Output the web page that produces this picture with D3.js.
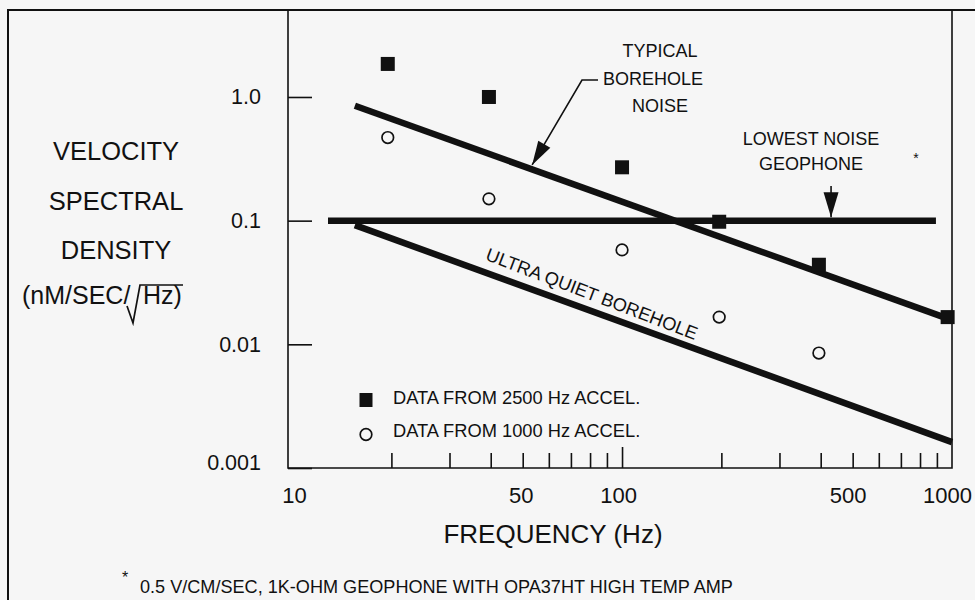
<!DOCTYPE html>
<html><head><meta charset="utf-8">
<script src="https://cdn.jsdelivr.net/npm/d3@7"></script>
<style>
html,body{margin:0;padding:0;background:#f6f6f6;}
svg{display:block;}
text{font-family:"Liberation Sans",Arial,Helvetica,sans-serif;fill:#111;}
</style></head><body>
<script>
// ---- data ----
const xMinorTicks = [20,30,40,50,60,70,80,90,100,200,300,400,500,600,700,800,900];
const xLabelValues = [10,50,100,500,1000];
const xLabels = ["10","50","100","500","1000"];
const yTickValues = [1,0.1,0.01,0.001];
const yLabels = ["1.0","0.1","0.01","0.001"];
const accel2500Freq = [19.5,39.5,100,197,395,970];
const accel2500Val  = [1.85,1.0,0.27,0.098,0.044,0.0166];
const accel1000Freq = [19.5,39.5,100,197,395];
const accel1000Val  = [0.47,0.15,0.058,0.0166,0.0085];
const typicalFreq  = [15.5,1000];  const typicalVal  = [0.85,0.0157];
const geophoneFreq = [12.85,894];  const geophoneVal = [0.1,0.1];
const ultraFreq    = [15.5,1000];  const ultraVal    = [0.092,0.00162];
const legendLabels = ["DATA FROM 2500 Hz ACCEL.","DATA FROM 1000 Hz ACCEL."];
const yTitle = ["VELOCITY","SPECTRAL","DENSITY"];
const xTitle = "FREQUENCY (Hz)";
const footnote = "0.5 V/CM/SEC, 1K-OHM GEOPHONE WITH OPA37HT HIGH TEMP AMP";
const typicalArrowTip = [53.4, 0.282];
const geophoneArrowFreq = 430;

// ---- layout ----
const W = 975, H = 600;
const svg = d3.select("body").append("svg").attr("width", W).attr("height", H);
svg.append("rect").attr("width", W).attr("height", H).attr("fill", "#f6f6f6");

const x = d3.scaleLog().domain([9.72, 1000]).range([288, 952]);
const y = d3.scaleLog().domain([0.001, 5.05]).range([468, 10]);
const ink = "#111";

// outer frame
svg.append("path").attr("d", "M8,600V10H975").attr("fill", "none").attr("stroke", ink).attr("stroke-width", 2);
// plot frame
svg.append("path")
  .attr("d", `M${x.range()[0]},${y.range()[1]}V${y.range()[0]}H${x.range()[1]}V${y.range()[1]}`)
  .attr("fill", "none").attr("stroke", ink).attr("stroke-width", 1.6);

// y axis
const gy = svg.append("g").attr("transform", `translate(${x.range()[0]},0)`)
  .call(d3.axisLeft(y).tickValues(yTickValues).tickFormat((d,i)=>yLabels[i])
        .tickSizeInner(-24).tickSizeOuter(0).tickPadding(27));
gy.select(".domain").remove();
gy.attr("font-family", null);
gy.selectAll("line").attr("stroke", ink).attr("stroke-width", 1.6);
gy.selectAll("text").attr("font-size", 21.5).attr("fill", ink)
  .attr("y", d => d === 0.001 ? -5 : 0);

// x axis minor ticks
const gx = svg.append("g").attr("transform", `translate(0,${y.range()[0]})`)
  .call(d3.axisBottom(x).tickValues(xMinorTicks).tickFormat("").tickSizeInner(-15).tickSizeOuter(0));
gx.select(".domain").remove();
gx.selectAll("line").attr("stroke", ink).attr("stroke-width", 1.6)
  .attr("y2", d => d === 100 ? -21 : -15);
// x labels
const xLabelShift = [2,-2,-4,-5,-5];
const gxl = svg.append("g").attr("transform", `translate(0,${y.range()[0]})`)
  .call(d3.axisBottom(x).tickValues(xLabelValues).tickFormat((d,i)=>xLabels[i]).tickSize(0).tickPadding(19));
gxl.select(".domain").remove();
gxl.attr("font-family", null);
gxl.selectAll("text").attr("font-size", 22).attr("fill", ink).attr("dx", (d,i)=>xLabelShift[i]);

// axis titles
svg.selectAll(".ytitle").data(yTitle).enter().append("text")
  .attr("x", 116).attr("y", (d,i)=>160 + i*49.5).attr("text-anchor","middle")
  .attr("font-size", 25.5).text(d=>d);
// (nM/SEC/√Hz) with drawn radical
svg.append("text").attr("x", 22).attr("y", 304).attr("font-size", 25).text("(nM/SEC/");
svg.append("text").attr("x", 143).attr("y", 304).attr("font-size", 25).text("Hz)");
svg.append("path").attr("d", "M127,306L133,323L140,285H183")
  .attr("fill","none").attr("stroke", ink).attr("stroke-width", 1.7).attr("stroke-linejoin","miter");

svg.append("text").attr("x", 553).attr("y", 543).attr("text-anchor","middle")
  .attr("font-size", 26).text(xTitle);

// footnote
svg.append("text").attr("x", 125).attr("y", 583).attr("text-anchor","middle").attr("font-size", 16).text("*");
svg.append("text").attr("x", 140).attr("y", 593).attr("font-size", 18.1).text(footnote);

// lines
const line = d3.line().x(d=>x(d[0])).y(d=>y(d[1]));
const zip = (a,b)=>a.map((v,i)=>[v,b[i]]);
[[typicalFreq,typicalVal],[geophoneFreq,geophoneVal],[ultraFreq,ultraVal]].forEach(([f,v])=>{
  svg.append("path").attr("d", line(zip(f,v))).attr("fill","none")
    .attr("stroke", ink).attr("stroke-width", 6.5);
});

// data points
svg.selectAll(".sq").data(zip(accel2500Freq,accel2500Val)).enter().append("rect")
  .attr("x", d=>x(d[0])-7).attr("y", d=>y(d[1])-7).attr("width",14).attr("height",14).attr("fill", ink);
svg.selectAll(".ci").data(zip(accel1000Freq,accel1000Val)).enter().append("circle")
  .attr("cx", d=>x(d[0])).attr("cy", d=>y(d[1])).attr("r",5.8)
  .attr("fill","#f6f6f6").attr("stroke", ink).attr("stroke-width",1.7);

// legend
svg.append("rect").attr("x", 366-6.5).attr("y", 400-7).attr("width",13).attr("height",14).attr("fill", ink);
svg.append("circle").attr("cx", 366).attr("cy", 434.5).attr("r",5.8)
  .attr("fill","#f6f6f6").attr("stroke", ink).attr("stroke-width",1.7);
svg.selectAll(".leg").data(legendLabels).enter().append("text")
  .attr("x", 393).attr("y",(d,i)=>403.5 + i*33).attr("font-size", 18.3).text(d=>d);

// annotations
function arrowHead(tip, from, len, hw){
  const dx = tip[0]-from[0], dy = tip[1]-from[1], L = Math.hypot(dx,dy);
  const ux = dx/L, uy = dy/L;
  const bx = tip[0]-ux*len, by = tip[1]-uy*len;
  return `M${tip[0]},${tip[1]}L${bx-uy*hw},${by+ux*hw}L${bx+uy*hw},${by-ux*hw}Z`;
}
["TYPICAL","BOREHOLE","NOISE"].forEach((t,i)=>{
  svg.append("text").attr("x", [660,653,660][i]).attr("y", 57 + i*27.5)
    .attr("text-anchor","middle").attr("font-size", 18).text(t);
});
const tip1 = [x(typicalArrowTip[0]), y(typicalArrowTip[1])];
const elbow = [582, 80];
svg.append("path").attr("d", `M598,80L${elbow[0]},${elbow[1]}L${tip1[0]},${tip1[1]}`)
  .attr("fill","none").attr("stroke", ink).attr("stroke-width",1.6);
svg.append("path").attr("d", arrowHead(tip1, elbow, 24, 7)).attr("fill", ink);

["LOWEST NOISE","GEOPHONE"].forEach((t,i)=>{
  svg.append("text").attr("x", 811).attr("y", 145 + i*25)
    .attr("text-anchor","middle").attr("font-size", 18).text(t);
});
svg.append("text").attr("x", 916).attr("y", 163).attr("text-anchor","middle").attr("font-size", 14).text("*");
const tip2 = [x(geophoneArrowFreq), y(0.1) - 3.5];
const from2 = [tip2[0], 186];
svg.append("line").attr("x1", from2[0]).attr("y1", from2[1]).attr("x2", tip2[0]).attr("y2", tip2[1])
  .attr("stroke", ink).attr("stroke-width", 1.6);
svg.append("path").attr("d", arrowHead(tip2, from2, 25, 7.5)).attr("fill", ink);

// ultra quiet label along line
{
  const p0 = [x(ultraFreq[0]), y(ultraVal[0])], p1 = [x(ultraFreq[1]), y(ultraVal[1])];
  const ang = Math.atan2(p1[1]-p0[1], p1[0]-p0[0]) * 180/Math.PI;
  const px = 586, t = (px - p0[0])/(p1[0]-p0[0]);
  const py = p0[1] + t*(p1[1]-p0[1]);
  svg.append("text").attr("transform", `translate(${px},${py}) rotate(${ang+1}) translate(0,-10)`)
    .attr("text-anchor","middle").attr("font-size", 18.3).text("ULTRA QUIET BOREHOLE");
}
</script>
</body></html>
